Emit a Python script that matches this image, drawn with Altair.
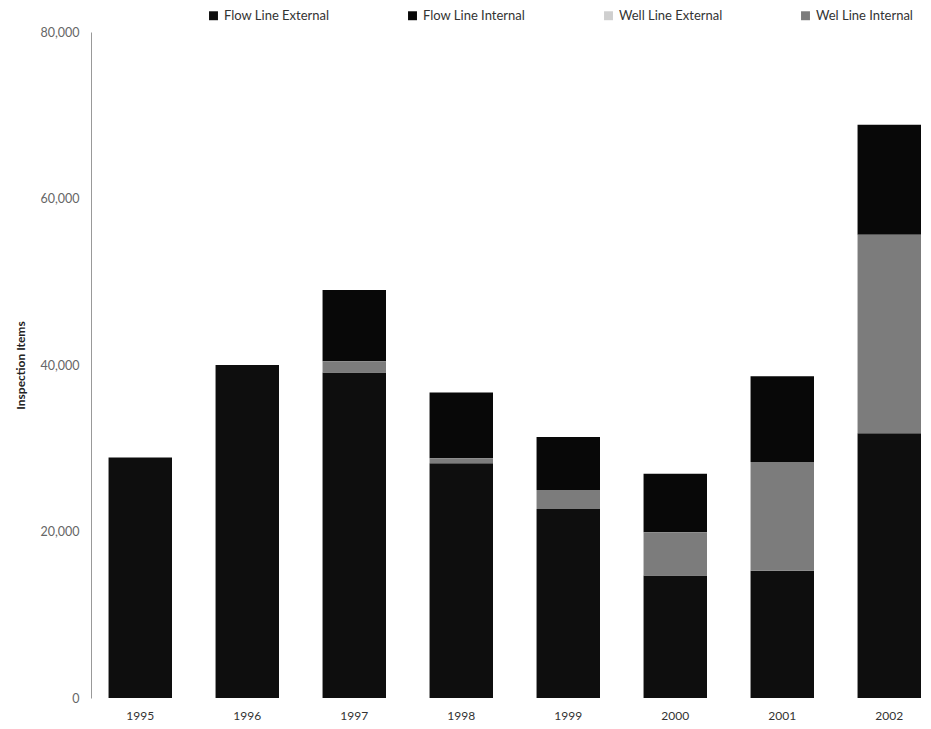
import altair as alt
import pandas as pd

years = ["1995", "1996", "1997", "1998", "1999", "2000", "2001", "2002"]
series = ["Flow Line External", "Flow Line Internal", "Well Line External", "Wel Line Internal"]
flow_ext = [28900, 40000, 39100, 28200, 22700, 14700, 15300, 31800]
wel_int = [0, 0, 1350, 600, 2300, 5200, 13050, 23850]
flow_int = [0, 0, 8550, 7900, 6350, 7050, 10300, 13200]
well_ext = [0, 0, 0, 0, 0, 0, 0, 0]
colors = ["#0e0e0e", "#080808", "#cfcfcf", "#7c7c7c"]
stack_order = {"Flow Line External": 0, "Wel Line Internal": 1, "Flow Line Internal": 2, "Well Line External": 3}

rows = []
for name, vals in [("Flow Line External", flow_ext), ("Flow Line Internal", flow_int),
                   ("Well Line External", well_ext), ("Wel Line Internal", wel_int)]:
    for y, v in zip(years, vals):
        rows.append({"Year": y, "Series": name, "Value": v, "ord": stack_order[name]})
df = pd.DataFrame(rows)

FONT = "Lato"

chart = alt.Chart(df).mark_bar().encode(
    x=alt.X("Year:N", sort=years, title=None,
            scale=alt.Scale(paddingInner=0.407, paddingOuter=0.082, align=1),
            axis=alt.Axis(labelAngle=0, domain=False, ticks=False, labelPadding=12,
                          labelFontSize=12, labelColor="#333", labelFont=FONT)),
    y=alt.Y("Value:Q", stack="zero", title="Inspection Items",
            scale=alt.Scale(domain=[0, 80000], nice=False),
            axis=alt.Axis(values=[0, 20000, 40000, 60000, 80000], format=",d", grid=False,
                          domainColor="#999", ticks=False, labelPadding=12,
                          labelFontSize=12.5, labelColor="#666", labelFont=FONT,
                          titleFont=FONT, titleFontSize=12, titleFontWeight="bold",
                          titleColor="#222", titlePadding=12)),
    color=alt.Color("Series:N", scale=alt.Scale(domain=series, range=colors),
                    legend=alt.Legend(title=None, orient="none", legendX=116, legendY=-23,
                                      direction="horizontal", columns=4, columnPadding=76,
                                      symbolType="square", symbolSize=80, symbolStrokeWidth=0,
                                      labelFont=FONT, labelFontSize=13, labelColor="#333")),
    order=alt.Order("ord:Q"),
).properties(
    width=830, height=666,
    padding={"left": 6, "top": 1, "right": 0, "bottom": 0},
).configure_view(stroke=None)

chart.save("out.html", embed_options={"renderer": "svg", "actions": False})
